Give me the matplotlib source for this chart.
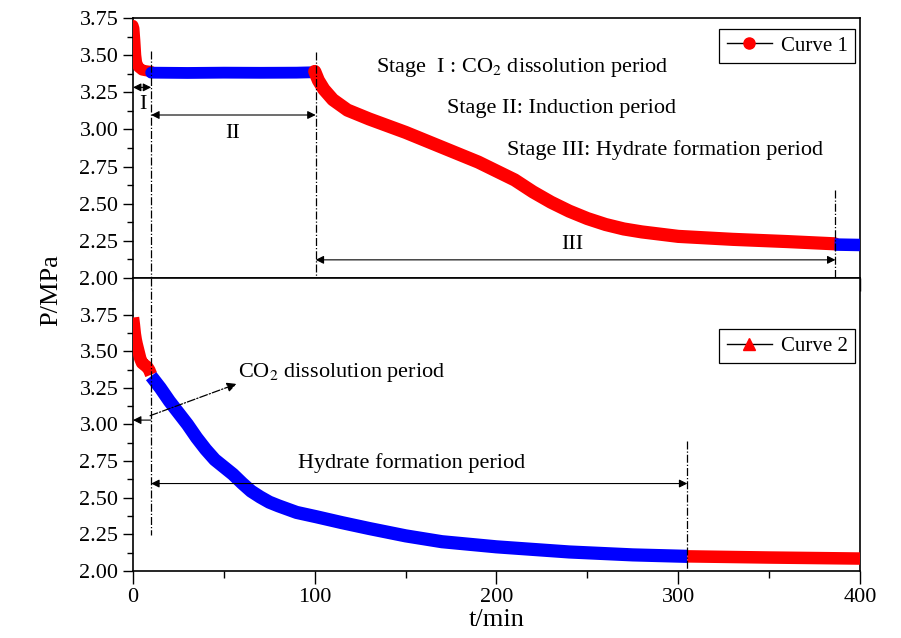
import matplotlib
matplotlib.use("Agg")
import matplotlib.pyplot as plt
from matplotlib.lines import Line2D
from matplotlib.ticker import MultipleLocator

plt.rcParams['font.family'] = ['Liberation Serif', 'DejaVu Serif']
plt.rcParams['mathtext.fontset'] = 'stix'

COL_RED = "#ff0000"
COL_BLUE = "#0000ff"

# ---- Curve 1 (top panel) ----
c1_t_a = [0, 0.5, 1, 1.5, 2, 3, 5, 7, 10]
c1_p_a = [3.70, 3.68, 3.60, 3.50, 3.45, 3.42, 3.40, 3.395, 3.39]
c1_t_b = [10, 30, 50, 70, 90, 100]
c1_p_b = [3.382, 3.380, 3.382, 3.381, 3.382, 3.385]
c1_t_c = [100, 102, 105, 110, 118, 130, 150, 170, 190, 200, 210, 220, 230, 240, 250,
          260, 270, 280, 300, 330, 360, 386]
c1_p_c = [3.39, 3.33, 3.27, 3.20, 3.13, 3.07, 2.98, 2.88, 2.78, 2.72, 2.66, 2.58, 2.51,
          2.45, 2.40, 2.36, 2.33, 2.31, 2.28, 2.26, 2.245, 2.23]
c1_t_d = [386, 400]
c1_p_d = [2.225, 2.222]

# ---- Curve 2 (bottom panel) ----
c2_t_a = [0, 0.5, 1, 1.5, 2, 3, 4, 5, 6, 7, 8, 9, 10]
c2_p_a = [3.73, 3.68, 3.62, 3.58, 3.55, 3.50, 3.45, 3.42, 3.41, 3.40, 3.39, 3.37, 3.34]
c2_t_b = [10, 15, 20, 25, 30, 35, 40, 45, 50, 55, 60, 65, 70, 75, 80, 90, 101, 115, 130,
          150, 170, 200, 240, 275, 305]
c2_p_b = [3.33, 3.25, 3.16, 3.08, 3.00, 2.91, 2.83, 2.76, 2.71, 2.66, 2.60, 2.545, 2.505,
          2.47, 2.445, 2.40, 2.37, 2.33, 2.29, 2.24, 2.20, 2.165, 2.13, 2.11, 2.10]
c2_t_c = [305, 350, 400]
c2_p_c = [2.10, 2.092, 2.085]

fig = plt.figure(figsize=(9.01, 6.38), dpi=100)
ax1 = fig.add_axes([0.1476, 0.5643, 0.8069, 0.4075])
ax2 = fig.add_axes([0.1476, 0.105, 0.8069, 0.4593])

# ----- curves -----
ax1.plot(c1_t_a, c1_p_a, color=COL_RED, lw=8, solid_capstyle='round',
         solid_joinstyle='round', zorder=3)
ax1.plot(c1_t_b, c1_p_b, color=COL_BLUE, lw=8.5, solid_capstyle='round', zorder=3)
ax1.plot(c1_t_c, c1_p_c, color=COL_RED, lw=9.5, solid_capstyle='round',
         solid_joinstyle='round', zorder=3)
ax1.plot(c1_t_d, c1_p_d, color=COL_BLUE, lw=9, solid_capstyle='butt', zorder=3)

ax2.plot(c2_t_a, c2_p_a, color=COL_RED, lw=9, solid_capstyle='butt',
         solid_joinstyle='round', zorder=3)
ax2.plot(c2_t_b, c2_p_b, color=COL_BLUE, lw=9.5, solid_capstyle='butt',
         solid_joinstyle='round', zorder=3)
ax2.plot(c2_t_c, c2_p_c, color=COL_RED, lw=9, solid_capstyle='butt', zorder=3)

# ----- axes styling -----
for ax in (ax1, ax2):
    ax.set_xlim(0, 400)
    ax.xaxis.set_major_locator(MultipleLocator(100))
    ax.xaxis.set_minor_locator(MultipleLocator(50))
    ax.yaxis.set_major_locator(MultipleLocator(0.25))
    ax.yaxis.set_minor_locator(MultipleLocator(0.125))
    ax.tick_params(axis='y', which='major', direction='out', length=7, width=1, labelsize=16)
    ax.tick_params(axis='y', which='minor', direction='out', length=4, width=1)
    ax.tick_params(axis='x', which='major', direction='out', length=9, width=1, labelsize=16)
    ax.tick_params(axis='x', which='minor', direction='out', length=5, width=1)
    ax.tick_params(right=False, top=False, which='both')
    for sp in ax.spines.values():
        sp.set_linewidth(1.2)
    ax.yaxis.set_major_formatter(plt.FormatStrFormatter('%.2f'))

ax1.set_ylim(2.0, 3.75)
ax1.set_yticks([2.0, 2.25, 2.5, 2.75, 3.0, 3.25, 3.5, 3.75])
ax1.tick_params(axis='x', labelbottom=False)
ax2.set_ylim(2.0, 4.0)
ax2.set_yticks([2.0, 2.25, 2.5, 2.75, 3.0, 3.25, 3.5, 3.75])
ax2.set_yticks([2.0 + 0.125 * i for i in range(15)], minor=True)
ax2.set_xlabel("t/min", fontsize=19, labelpad=1)
fig.text(0.057, 0.545, "P/MPa", rotation=90, fontsize=19, ha='center', va='center')

# ----- dash-dot markers -----
dd = dict(color='black', lw=0.9, ls='-.', zorder=4)
ax1.plot([10, 10], [3.53, 2.0], clip_on=False, **dd)
ax2.plot([10, 10], [4.0, 2.245], **dd)
ax1.plot([100.5, 100.5], [3.52, 2.0], **dd)
ax1.plot([386.5, 386.5], [2.59, 2.0], **dd)
ax2.plot([305, 305], [2.89, 2.0], **dd)

arr = dict(arrowstyle='<|-|>', color='black', lw=0.8, mutation_scale=12, shrinkA=0, shrinkB=0)
ax1.annotate("", xy=(0, 3.283), xytext=(10, 3.283), arrowprops=arr)
ax1.annotate("", xy=(10, 3.097), xytext=(100.5, 3.097), arrowprops=arr)
ax1.annotate("", xy=(100.5, 2.122), xytext=(386.5, 2.122), arrowprops=arr)
ax2.annotate("", xy=(10, 2.597), xytext=(305, 2.597), arrowprops=arr)
ax2.annotate("", xy=(0, 3.03), xytext=(10, 3.03),
             arrowprops=dict(arrowstyle='-|>', color='black', lw=0.8, mutation_scale=12,
                             shrinkA=0, shrinkB=0))
ax2.annotate("", xy=(57, 3.277), xytext=(9.4, 3.06),
             arrowprops=dict(arrowstyle='-|>', color='black', lw=0.9, ls='-.',
                             mutation_scale=14, shrinkA=0, shrinkB=0))

fs = 16
ax1.text(5.5, 3.165, "I", fontsize=fs, ha='center', va='center')
ax1.text(54.8, 2.974, "II", fontsize=fs, ha='center', va='center')
ax1.text(241.6, 2.222, "III", fontsize=fs, ha='center', va='center')
ax1.text(133.7, 3.414, "Stage  I : CO$_2$ dissolution period", fontsize=fs, ha='left', va='center')
ax1.text(172.6, 3.144, "Stage II: Induction period", fontsize=fs, ha='left', va='center')
ax1.text(205.6, 2.862, "Stage III: Hydrate formation period", fontsize=fs, ha='left', va='center')
ax2.text(57.8, 3.354, "CO$_2$ dissolution period", fontsize=fs, ha='left', va='center')
ax2.text(153, 2.74, "Hydrate formation period", fontsize=fs, ha='center', va='center')

# ----- legends -----
h1 = Line2D([], [], color='black', lw=1, marker='o', markersize=8,
            markerfacecolor=COL_RED, markeredgecolor=COL_RED)
h2 = Line2D([], [], color='black', lw=1, marker='^', markersize=8,
            markerfacecolor=COL_RED, markeredgecolor=COL_RED)
for ax, h, lab, yy in ((ax1, h1, "Curve 1", 0.958), (ax2, h2, "Curve 2", 0.826)):
    leg = ax.legend([h], [lab], loc='upper right', bbox_to_anchor=(0.993, yy),
                    borderaxespad=0, fontsize=15, fancybox=False, framealpha=1,
                    edgecolor='black', handlelength=2.2, handletextpad=0.4,
                    borderpad=0.35)
    leg.get_frame().set_linewidth(0.9)

fig.savefig("out.png", dpi=100)
